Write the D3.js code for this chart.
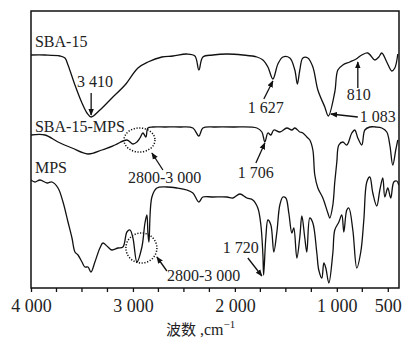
<!DOCTYPE html>
<html>
<head>
<meta charset="utf-8">
<script src="https://cdn.jsdelivr.net/npm/d3@7"></script>
<style>
  body { margin: 0; background: #fff; }
  svg text { font-family: "Liberation Serif", "DejaVu Serif", serif; fill: #222; }
  .cjk { font-family: "Noto Sans CJK SC", sans-serif; }
</style>
</head>
<body>
<div id="chart"></div>
<script>
// IR spectra, wavenumber (cm-1) vs transmittance (a.u., curves offset)
const sbaWn = [4000, 3863, 3716, 3667, 3637, 3569, 3500, 3451, 3410, 3324, 3206, 3078, 2951, 2853, 2716, 2608, 2471, 2392, 2353, 2314, 2216, 2078, 1922, 1784, 1725, 1676, 1627, 1578, 1529, 1461, 1412, 1387, 1363, 1333, 1284, 1235, 1186, 1118, 1083, 1020, 990, 941, 873, 810, 755, 696, 627, 588, 559, 510, 461, 431, 402];
const sbaT = [232, 232, 231, 229, 222, 202, 184, 174, 170, 177, 189, 202, 219, 225, 230, 231, 233, 231, 217, 230, 232, 233, 232, 230, 227, 220, 208, 223, 230, 229, 217, 203, 217, 229, 229, 220, 197, 180, 171, 195, 217, 222, 225, 228, 232, 234, 227, 230, 234, 225, 216, 219, 233];

const sbaMpsWn = [4000, 3863, 3735, 3598, 3441, 3304, 3176, 3059, 3000, 2961, 2931, 2902, 2873, 2853, 2804, 2686, 2539, 2412, 2353, 2314, 2196, 2020, 1784, 1735, 1706, 1676, 1647, 1618, 1559, 1490, 1441, 1412, 1363, 1333, 1294, 1265, 1235, 1216, 1186, 1137, 1088, 1069, 1039, 1020, 1000, 980, 941, 902, 853, 824, 794, 755, 725, 676, 618, 559, 510, 480, 451, 422, 402];
const sbaMpsT = [152, 152, 145, 139, 133, 137, 142, 147, 143, 145, 149, 154, 150, 159, 160, 160, 160, 159, 151, 159, 160, 160, 159, 155, 145, 154, 152, 157, 155, 159, 157, 159, 155, 154, 150, 147, 137, 112, 99, 89, 74, 69, 82, 105, 125, 142, 145, 142, 154, 157, 149, 142, 157, 160, 160, 159, 155, 142, 122, 137, 147];

const mpsWn = [4000, 3961, 3912, 3843, 3794, 3735, 3686, 3637, 3598, 3569, 3539, 3500, 3471, 3441, 3412, 3373, 3324, 3294, 3245, 3206, 3147, 3098, 3059, 3029, 3000, 2961, 2912, 2882, 2863, 2853, 2843, 2814, 2765, 2667, 2569, 2471, 2412, 2353, 2314, 2216, 2078, 2020, 1951, 1882, 1824, 1775, 1745, 1725, 1718, 1696, 1676, 1647, 1618, 1588, 1559, 1529, 1500, 1471, 1441, 1422, 1392, 1363, 1343, 1314, 1294, 1265, 1235, 1196, 1177, 1147, 1127, 1108, 1078, 1039, 1020, 980, 951, 931, 902, 882, 843, 804, 765, 735, 706, 676, 647, 608, 578, 549, 529, 500, 471, 441, 412, 392];
const mpsT = [107, 105, 107, 104, 105, 99, 85, 65, 49, 35, 32, 25, 20, 20, 15, 25, 39, 44, 40, 37, 39, 40, 55, 57, 49, 25, 40, 64, 72, 54, 45, 90, 99, 100, 99, 97, 94, 85, 90, 90, 90, 89, 93, 89, 87, 79, 62, 32, 12, 50, 67, 62, 35, 55, 82, 90, 89, 74, 54, 59, 29, 50, 71, 49, 35, 69, 64, 34, 17, 9, 24, 19, 4, 34, 57, 65, 72, 55, 77, 79, 57, 19, 35, 67, 105, 110, 94, 81, 97, 109, 90, 99, 89, 105, 106, 102];

const seriesNames = ['SBA-15', 'SBA-15-MPS', 'MPS'];
const majorTicks = [4000, 3000, 2000, 1000, 500];
const tickLabels = ['4 000', '3 000', '2 000', '1 000', '500'];
const minorTicks = [3750, 3500, 3250, 2750, 2500, 2250, 1750, 1500, 1250, 750];

// labels and arrows, in wavenumber / transmittance units
const labelText = ['SBA-15', '3 410', 'SBA-15-MPS', '2800-3 000', 'MPS', '2800-3 000', '1 627', '1 706', '1 720', '810', '1 083'];
const labelWn = [3961, 3549, 3961, 3049, 3961, 2667, 1873, 1971, 2118, 902, 774];
const labelT = [240, 200, 155, 104, 114, 6, 174, 109, 34, 187, 165];
const arrowFrom = [[3410, 194], [2706, 117], [2667, 16], [1716, 188], [1794, 124], [1873, 29], [794, 199], [794, 170]];
const arrowTo = [[3410, 172], [2814, 134], [2765, 30], [1627, 206], [1706, 144], [1735, 11], [794, 225], [1059, 173]];
const ringCentre = [[2936, 147], [2917, 39]];

const width = 405, height = 341;
const margin = { top: 11, right: 6, bottom: 53, left: 31 };

const svg = d3.select('#chart').append('svg')
  .attr('width', width)
  .attr('height', height);

const x = d3.scaleLinear().domain([4000, 390]).range([margin.left, width - margin.right]);
const y = d3.scaleLinear().domain([-1, 276]).range([height - margin.bottom, margin.top]);

svg.append('defs').append('marker')
  .attr('id', 'head')
  .attr('viewBox', '0 0 10 10')
  .attr('refX', 9).attr('refY', 5)
  .attr('markerWidth', 7).attr('markerHeight', 7)
  .attr('markerUnits', 'userSpaceOnUse')
  .attr('orient', 'auto')
  .append('path')
  .attr('d', 'M0,1 L10,5 L0,9 Z')
  .attr('fill', '#111');

svg.append('clipPath').attr('id', 'plot')
  .append('rect')
  .attr('x', x(4000)).attr('y', y(276))
  .attr('width', x(390) - x(4000)).attr('height', y(-1) - y(276));

// bottom axis
const xAxis = svg.append('g')
  .attr('transform', `translate(0, ${y(-1)})`)
  .call(d3.axisBottom(x).tickValues(majorTicks).tickSize(4).tickFormat((d, i) => tickLabels[i]));
xAxis.select('.domain').remove();
xAxis.selectAll('line').attr('stroke', '#111').attr('stroke-width', 1.3);
xAxis.selectAll('text')
  .attr('font-family', '"Liberation Serif", serif')
  .attr('font-size', 18)
  .attr('fill', '#222')
  .attr('dy', null)
  .attr('y', 24);

svg.append('g').selectAll('line').data(minorTicks).enter().append('line')
  .attr('x1', d => x(d)).attr('x2', d => x(d))
  .attr('y1', y(-1)).attr('y2', y(-1) + 4)
  .attr('stroke', '#111').attr('stroke-width', 1.3);

// frame
svg.append('rect')
  .attr('x', x(4000)).attr('y', y(276))
  .attr('width', x(390) - x(4000)).attr('height', y(-1) - y(276))
  .attr('fill', 'none').attr('stroke', '#111').attr('stroke-width', 1.5);

// spectra
const line = d3.line()
  .x(d => x(d[0]))
  .y(d => y(d[1]))
  .curve(d3.curveCatmullRom.alpha(0.5));

const spectra = [
  d3.zip(sbaWn, sbaT),
  d3.zip(sbaMpsWn, sbaMpsT),
  d3.zip(mpsWn, mpsT)
];

svg.append('g').attr('clip-path', 'url(#plot)')
  .selectAll('path').data(spectra).enter().append('path')
  .attr('class', (d, i) => 'spectrum s' + i)
  .attr('d', line)
  .attr('fill', 'none')
  .attr('stroke', '#111')
  .attr('stroke-width', 1.3)
  .attr('stroke-linejoin', 'round');

// dotted rings round the C-H region
svg.append('g').selectAll('ellipse').data(ringCentre).enter().append('ellipse')
  .attr('cx', d => x(d[0])).attr('cy', d => y(d[1]))
  .attr('rx', 15.5).attr('ry', (d, i) => i == 0 ? 12 : 15)
  .attr('fill', 'none')
  .attr('stroke', '#111')
  .attr('stroke-width', 1.5)
  .attr('stroke-dasharray', '1.2,1.6');

// arrows
svg.append('g').selectAll('line').data(arrowFrom).enter().append('line')
  .attr('x1', d => x(d[0])).attr('y1', d => y(d[1]))
  .attr('x2', (d, i) => x(arrowTo[i][0])).attr('y2', (d, i) => y(arrowTo[i][1]))
  .attr('stroke', '#111').attr('stroke-width', 1.3)
  .attr('marker-end', 'url(#head)');

// labels
svg.append('g').selectAll('text').data(labelText).enter().append('text')
  .attr('x', (d, i) => x(labelWn[i]))
  .attr('y', (d, i) => y(labelT[i]))
  .attr('font-size', 16)
  .text(d => d);

// axis title
const title = svg.append('text')
  .attr('x', 166).attr('y', 335)
  .attr('font-size', 16);
title.append('tspan').attr('class', 'cjk').attr('font-size', 15).text('波数');
title.append('tspan').text(' ,cm');
title.append('tspan').attr('font-size', 11).attr('dy', -7).text('−1');
</script>
</body>
</html>
